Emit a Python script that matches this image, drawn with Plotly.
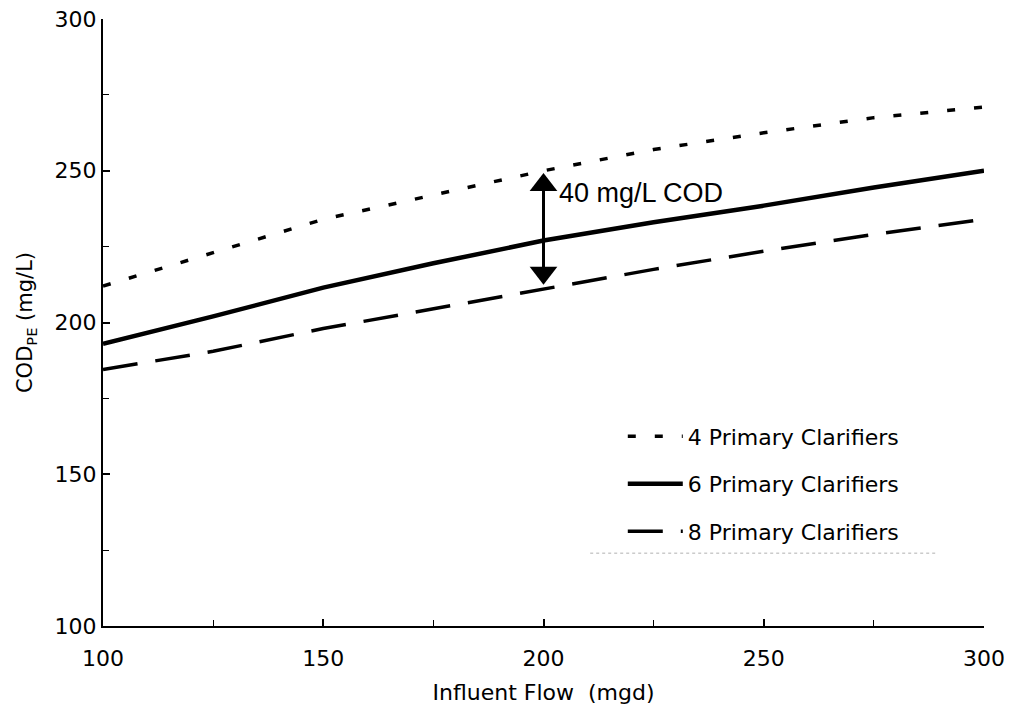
import plotly.graph_objects as go

flow = [100, 125, 150, 175, 200, 225, 250, 275, 300]
cod_4 = [212, 223, 234, 242, 250, 257, 262.5, 267.5, 271]
cod_6 = [193, 202, 211.5, 219.5, 227, 233, 238.5, 244.5, 250]
cod_8 = [184.5, 190.5, 198, 204.5, 211, 217.5, 223.5, 229, 234]

series_names = ["4 Primary Clarifiers", "6 Primary Clarifiers", "8 Primary Clarifiers"]

# double-headed arrow showing the 40 mg/L spread at 200 mgd (arrow-head centres)
arrow_x = [200, 200]
arrow_y = [216.4, 245.3]
arrow_label = "40 mg/L COD"
label_pos = (203.0, 242.7)

FONT = "DejaVu Sans, Verdana, sans-serif"
ANN_FONT = "Liberation Sans, Arial, sans-serif"

fig = go.Figure()
fig.add_trace(go.Scatter(x=flow, y=cod_4, mode="lines", name=series_names[0], legendgroup="a",
                         line=dict(color="black", width=3.5, dash="8px,19px")))
fig.add_trace(go.Scatter(x=flow, y=cod_6, mode="lines", name=series_names[1], legendgroup="b",
                         line=dict(color="black", width=4.5)))
fig.add_trace(go.Scatter(x=flow, y=cod_8, mode="lines", name=series_names[2], legendgroup="c",
                         line=dict(color="black", width=3.5, dash="35px,18px")))

fig.add_trace(go.Scatter(x=arrow_x, y=arrow_y, mode="lines+markers", showlegend=False, hoverinfo="skip",
                         line=dict(color="black", width=3),
                         marker=dict(symbol=["triangle-down", "triangle-up"], size=24, color="black",
                                     line=dict(width=0))))

fig.add_annotation(x=label_pos[0], y=label_pos[1], xref="x", yref="y", text=arrow_label, showarrow=False,
                   xanchor="left", yanchor="middle", font=dict(family=ANN_FONT, size=27, color="black"))

# faint remnant line under the legend
fig.add_shape(type="line", xref="paper", yref="paper", x0=0.553, x1=0.945, y0=0.12, y1=0.12,
              line=dict(color="#b0b0b0", width=1, dash="dot"))

axis_common = dict(showline=True, linecolor="black", linewidth=2, ticks="inside", ticklen=7,
                   tickwidth=1.5, tickcolor="black", showgrid=False, zeroline=False, automargin=False,
                   tickfont=dict(family=FONT, size=22, color="black"),
                   minor=dict(ticks="inside", ticklen=6, tickwidth=1.2, tickcolor="black", dtick=25))

fig.update_xaxes(range=[100, 300], dtick=50, tick0=100, ticklabelstandoff=12,
                 title=dict(text="Influent Flow  (mgd)", font=dict(family=FONT, size=22, color="black"), standoff=14),
                 **axis_common)
fig.update_yaxes(range=[100, 300], dtick=50, tick0=100,
                 title=dict(text="COD<sub>PE</sub> (mg/L)", font=dict(family=FONT, size=21, color="black"), standoff=16),
                 **axis_common)

fig.update_layout(
    width=1025, height=713,
    margin=dict(l=103, r=41, t=19, b=87, autoexpand=False),
    plot_bgcolor="white", paper_bgcolor="white",
    showlegend=True,
    legend=dict(x=0.59, y=0.347, xanchor="left", yanchor="top", bgcolor="rgba(0,0,0,0)",
                font=dict(family=FONT, size=22, color="black"), tracegroupgap=16, itemwidth=55),
)

fig.write_html("out.html", config={"displayModeBar": False},
               post_script="document.body.style.margin='0px';")
